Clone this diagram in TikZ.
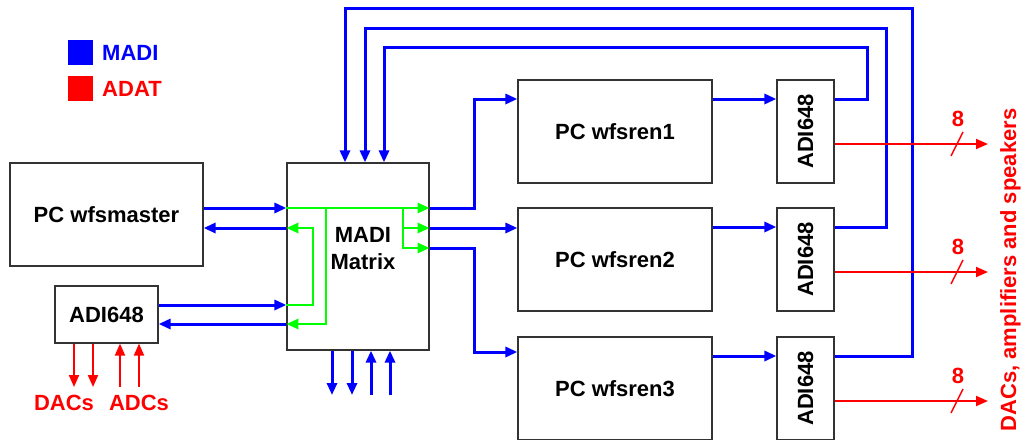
\documentclass[tikz,border=0pt]{standalone}
\usepackage{fontspec}
\setmainfont{Liberation Sans}
\usetikzlibrary{arrows.meta,positioning}
\begin{document}
\begin{tikzpicture}[x=1pt,y=-1pt,
    every node/.style={font=\fontsize{22}{27}\selectfont\bfseries},
    box/.style={draw=black!80,line width=1.2pt,fill=white,inner sep=0pt},
    madi/.style={blue,line width=3pt,-{Triangle[length=12pt,width=10pt]}},
    adat/.style={red,line width=2pt,-{Triangle[length=12pt,width=10pt]}},
    mix/.style={green,line width=2.8pt,-{Triangle[length=12pt,width=10pt]}}]
  \clip (0,0) rectangle (1022,439);
  % ---- legend ----
  \node[fill=blue,minimum size=25pt,inner sep=0pt] (keyM) at (80,52.5) {};
  \node[blue,right=6pt of keyM] (txtM) {MADI};
  \node[fill=red,minimum size=25pt,inner sep=0pt] (keyA) at (80,88.5) {};
  \node[red,right=6pt of keyA] (txtA) {ADAT};
  % ---- master side ----
  \node[box,minimum width=193pt,minimum height=103pt] (master) at (106.5,214.5) {PC wfsmaster};
  \node[box,minimum width=103pt,minimum height=57pt] (adiL) at (106.5,314.5) {ADI648};
  \node[box,minimum width=142pt,minimum height=187pt] (mtx) at (358,256.5) {};
  % ---- renderers and their converters ----
  \foreach \n/\i/\y in {A/1/131.5, B/2/259.5, C/3/388.5}{
    \node[box,minimum width=194pt,minimum height=103pt] (ren\n) at (615,\y) {PC wfsren\i};
    \node[box,rotate=90,minimum width=103pt,minimum height=57pt] (adi\n) at (805.5,\y) {ADI648};
  }
  % ---- MADI links ----
  \draw[madi] (master.east |- 0,208) -- (mtx.west |- 0,208);
  \draw[madi] (mtx.west |- 0,228) -- (master.east |- 0,228);
  \draw[madi] (adiL.east |- 0,305) -- (mtx.west |- 0,305);
  \draw[madi] (mtx.west |- 0,324) -- (adiL.east |- 0,324);
  \draw[madi] (mtx.east |- 0,208) -| (474,99) -- (renA.west |- 0,99);
  \draw[madi] (mtx.east |- 0,228) -- (renB.west |- 0,228);
  \draw[madi] (mtx.east |- 0,248) -| (474,352) -- (renC.west |- 0,352);
  \foreach \n/\yi/\xr/\yt/\xm in {A/99/867/47/384, B/227/886/28/365, C/356/912/8/345}{
    \draw[madi] (ren\n.east |- 0,\yi) -- (adi\n.north |- 0,\yi);
    \draw[madi] (adi\n.south |- 0,\yi) -| (\xr,\yt) -| (mtx.north -| \xm,0);
  }
  \foreach \x in {332,352}{ \draw[madi] (mtx.south -| \x,0) -- (\x,395); }
  \foreach \x in {371,390}{ \draw[madi] (\x,395) -- (mtx.south -| \x,0); }
  % ---- routing inside the matrix ----
  \draw[mix] (mtx.west |- 0,208) -- (mtx.east |- 0,208);
  \draw[mix] (326,208) |- (mtx.west |- 0,324);
  \draw[mix] (mtx.west |- 0,305) -| (313,228) -- (mtx.west |- 0,228);
  \draw[mix] (403,208) |- (mtx.east |- 0,248);
  \draw[mix] (403,228) -- (mtx.east |- 0,228);
  \node[align=center] (mtxtext) at (363,249) {MADI\\Matrix};
  % ---- ADAT links ----
  \foreach \n/\y in {A/144, B/272, C/401}{
    \coordinate (spk\n) at (988,\y);
    \draw[adat] (adi\n.south |- 0,\y) -- (spk\n);
    \draw[red,line width=1.5pt] (951,\y+12) -- (963,\y-12);
    \node[red] (num\n) at (958,\y-25) {8};
  }
  \foreach \x in {74,93}{ \draw[adat] (adiL.south -| \x,0) -- (\x,387); }
  \foreach \x in {120,139}{ \draw[adat] (\x,387) -- (adiL.south -| \x,0); }
  \node[red] (dacs) at (64,403) {DACs};
  \node[red] (adcs) at (139,403) {ADCs};
  \node[red,rotate=90,anchor=base] (spk) at (1016,270) {DACs, amplifiers and speakers};
\end{tikzpicture}
\end{document}
